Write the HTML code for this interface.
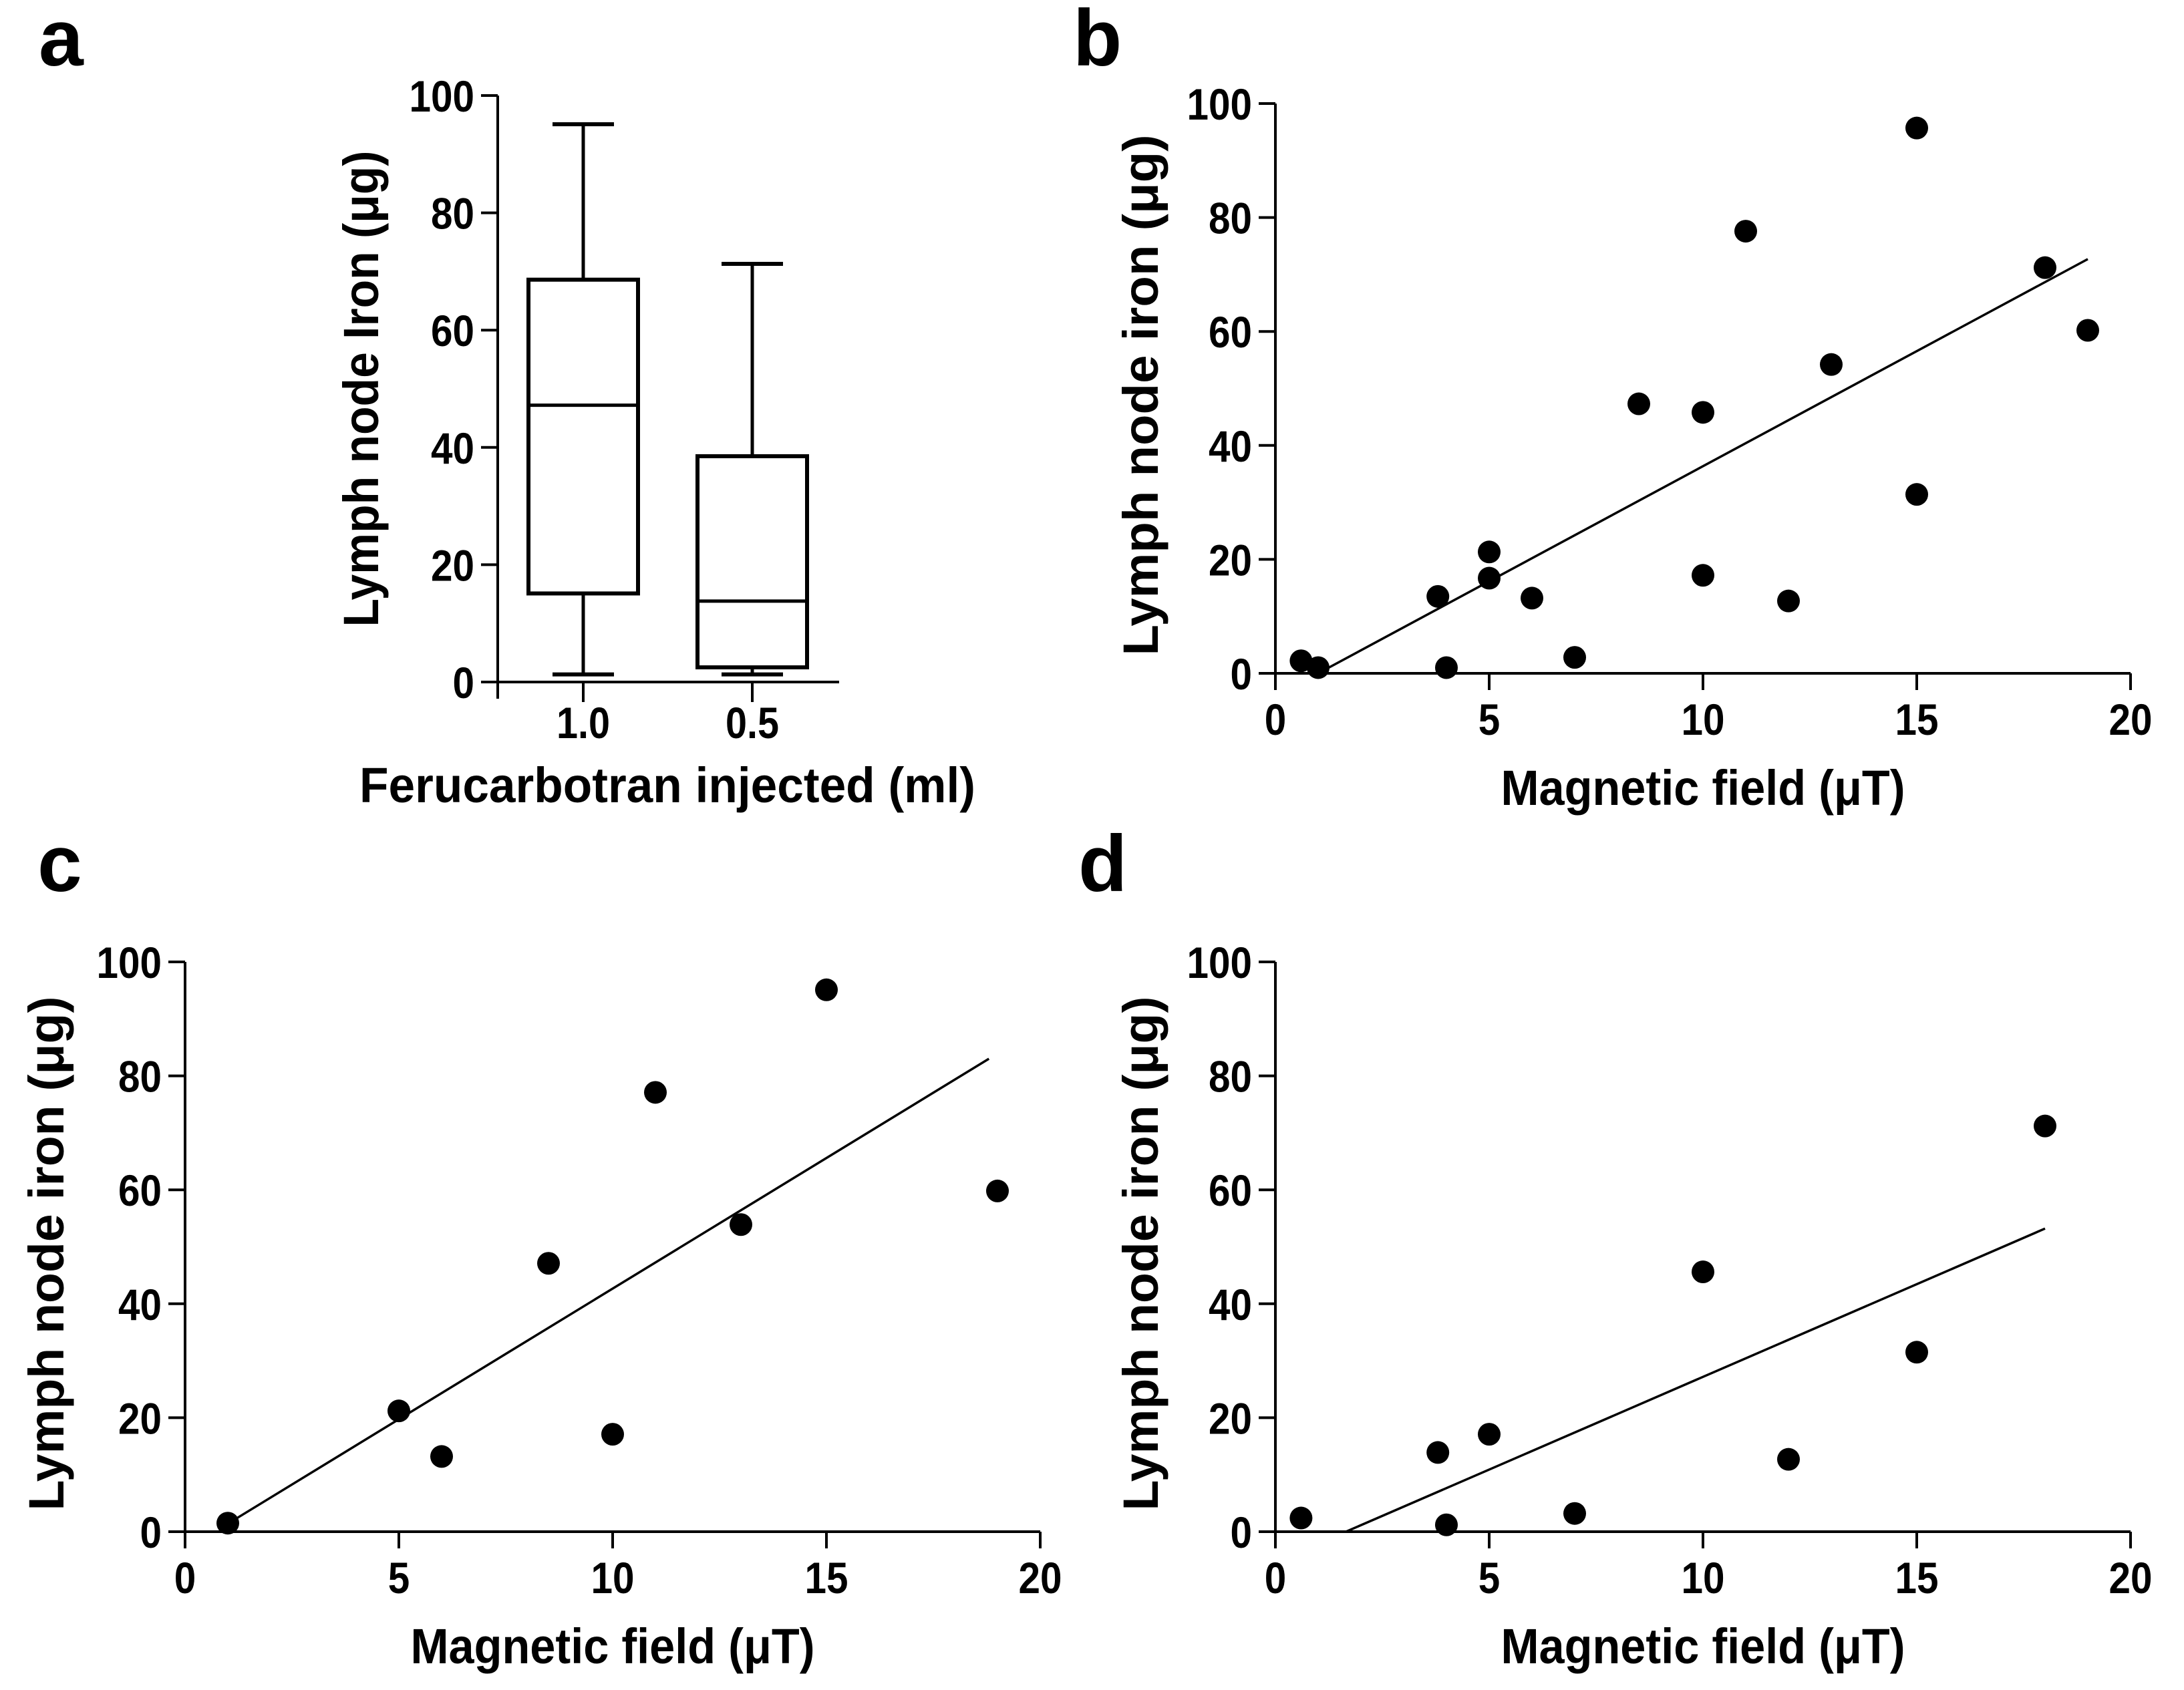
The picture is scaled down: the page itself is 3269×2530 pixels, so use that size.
<!DOCTYPE html>
<html><head><meta charset="utf-8"><style>
html,body{margin:0;padding:0;background:#fff;}
svg{display:block;}
text{font-family:"Liberation Sans",Arial,sans-serif;font-weight:bold;fill:#000;}
</style></head>
<body>
<svg id="fig" xmlns="http://www.w3.org/2000/svg" width="3269" height="2530" viewBox="0 0 3269 2530">
<rect width="3269" height="2530" fill="#fff"/>
<text x="58" y="98" font-size="120">a</text>
<text x="1606" y="98" font-size="120">b</text>
<text x="56" y="1334" font-size="120">c</text>
<text x="1614" y="1334" font-size="120">d</text>
</svg>
<script>
// Panel a box plot data
const boxCategories = ["1.0", "0.5"];
const boxMin = [1.3, 1.3];
const boxQ1 = [15.1, 2.5];
const boxMedian = [47.2, 13.8];
const boxQ3 = [68.6, 38.5];
const boxMax = [95.1, 71.3];
const yTicks = [0, 20, 40, 60, 80, 100];
const xTicks = [0, 5, 10, 15, 20];
// Panel b
const bX = [0.6,1.0,3.8,4.0,5.0,5.0,6.0,7.0,8.5,10.0,10.0,11.0,12.0,13.0,15.0,15.0,18.0,19.0];
const bY = [2.2,1.0,13.5,1.0,21.3,16.7,13.2,2.8,47.3,45.8,17.2,77.6,12.7,54.2,95.7,31.4,71.2,60.2];
const bFitX = [1.0, 19.0];
const bFitY = [0.0, 72.7];
// Panel c
const cX = [1.0,5.0,6.0,8.5,10.0,11.0,13.0,15.0,19.0];
const cY = [1.5,21.2,13.2,47.1,17.1,77.1,53.9,95.1,59.8];
const cFitX = [1.0, 18.8];
const cFitY = [1.4, 83.0];
// Panel d
const dX = [0.6,3.8,4.0,5.0,7.0,10.0,12.0,15.0,18.0];
const dY = [2.4,13.9,1.2,17.1,3.2,45.6,12.7,31.5,71.2];
const dFitX = [1.65, 18.0];
const dFitY = [0.0, 53.2];

const NS = "http://www.w3.org/2000/svg";
const svg = document.getElementById("fig");
function mk(tag, attrs, parent) {
  const e = document.createElementNS(NS, tag);
  for (const k in attrs) e.setAttribute(k, attrs[k]);
  (parent || svg).appendChild(e);
  return e;
}
function txt(str, x, y, size, anchor, len, rot) {
  const t = mk("text", {x: x, y: y, "font-size": size, "text-anchor": anchor});
  if (len) { t.setAttribute("textLength", len); t.setAttribute("lengthAdjust", "spacingAndGlyphs"); }
  if (rot) t.setAttribute("transform", "rotate(-90 " + x + " " + y + ")");
  t.textContent = str;
  return t;
}
function yAxis(g, ax, y0, y100) {
  const sy = v => y0 - (y0 - y100) * v / 100;
  const l = mk("line", {x1: ax, y1: y100, x2: ax, y2: y0 + 25, stroke: "#000", "stroke-width": 4}, g);
  
  
  yTicks.forEach(v => {
    const tk = mk("line", {x1: ax - 25, y1: sy(v), x2: ax, y2: sy(v), stroke: "#000", "stroke-width": 4}, g);
    
    
    const s = String(v);
    const t = txt(s, ax - 35, sy(v) + 24, 66, "end", s.length * 32.5);
    g.appendChild(t);
    
    
  });
  return sy;
}
function scatterPanel(name, ax, x20, y0, y100, xs, ys, fx, fy, ytitle, ytx, ytlen) {
  const g = mk("g", {});
  
  
  const sx = v => ax + (x20 - ax) * v / 20;
  const sy = yAxis(g, ax, y0, y100);
  const xl = mk("line", {x1: ax - 25, y1: y0, x2: x20, y2: y0, stroke: "#000", "stroke-width": 4}, g);
  
  
  xTicks.forEach(v => {
    const tk = mk("line", {x1: sx(v), y1: y0, x2: sx(v), y2: y0 + 25, stroke: "#000", "stroke-width": 4}, g);
    
    
    const s = String(v);
    const t = txt(s, sx(v), y0 + 92, 66, "middle", s.length * 32.5);
    g.appendChild(t);
    
    
  });
  const fit = mk("line", {x1: sx(fx[0]), y1: sy(fy[0]), x2: sx(fx[1]), y2: sy(fy[1]), stroke: "#000", "stroke-width": 3.5}, g);
  
  
  xs.forEach((x, i) => {
    const c = mk("circle", {cx: sx(x), cy: sy(ys[i]), r: 17, fill: "#000"}, g);
    
    
  });
  const xt = txt("Magnetic field (\u03bcT)", (ax + x20) / 2, y0 + 197, 74, "middle", 605);
  g.appendChild(xt);
  
  
  const ymid = (y0 + y100) / 2 + 10;
  const yt = txt(ytitle, ytx, ymid, 74, "middle", ytlen, true);
  g.appendChild(yt);
  
  
}

// Panel a
(function () {
  const g = mk("g", {});
  
  
  const ax = 745, y0 = 1021, y100 = 143;
  const sy = yAxis(g, ax, y0, y100);
  const xl = mk("line", {x1: ax - 25, y1: y0, x2: 1256, y2: y0, stroke: "#000", "stroke-width": 4}, g);
  
  
  const cx = i => 873 + i * 253;
  boxCategories.forEach((cat, i) => {
    const c = cx(i);
    const tk = mk("line", {x1: c, y1: y0, x2: c, y2: y0 + 30, stroke: "#000", "stroke-width": 4}, g);
    
    
    const t = txt(cat, c, y0 + 84, 66, "middle", 80);
    g.appendChild(t);
    
    
    const w1 = mk("line", {x1: c, y1: sy(boxMax[i]), x2: c, y2: sy(boxQ3[i]), stroke: "#000", "stroke-width": 5}, g);
    
    
    const w2 = mk("line", {x1: c, y1: sy(boxQ1[i]), x2: c, y2: sy(boxMin[i]), stroke: "#000", "stroke-width": 5}, g);
    
    
    const cap1 = mk("line", {x1: c - 46, y1: sy(boxMax[i]), x2: c + 46, y2: sy(boxMax[i]), stroke: "#000", "stroke-width": 6}, g);
    
    
    const cap2 = mk("line", {x1: c - 46, y1: sy(boxMin[i]), x2: c + 46, y2: sy(boxMin[i]), stroke: "#000", "stroke-width": 6}, g);
    
    
    const r = mk("rect", {x: c - 82, y: sy(boxQ3[i]), width: 164, height: sy(boxQ1[i]) - sy(boxQ3[i]), fill: "none", stroke: "#000", "stroke-width": 6}, g);
    
    
    const m = mk("line", {x1: c - 82, y1: sy(boxMedian[i]), x2: c + 82, y2: sy(boxMedian[i]), stroke: "#000", "stroke-width": 5}, g);
    
    
  });
  const xt = txt("Ferucarbotran injected (ml)", 999, 1201, 74, "middle", 922);
  g.appendChild(xt);
  
  
  const yt = txt("Lymph node Iron (\u03bcg)", 566, 582, 74, "middle", 713, true);
  g.appendChild(yt);
  
  
})();

scatterPanel("panel-b-scatter", 1909, 3189, 1008, 155, bX, bY, bFitX, bFitY, "Lymph node iron (\u03bcg)", 1733, 780);
scatterPanel("panel-c-scatter", 277, 1557, 2293, 1440, cX, cY, cFitX, cFitY, "Lymph node iron (\u03bcg)", 95, 770);
scatterPanel("panel-d-scatter", 1909, 3189, 2293, 1440, dX, dY, dFitX, dFitY, "Lymph node iron (\u03bcg)", 1733, 770);
</script>
</body></html>
